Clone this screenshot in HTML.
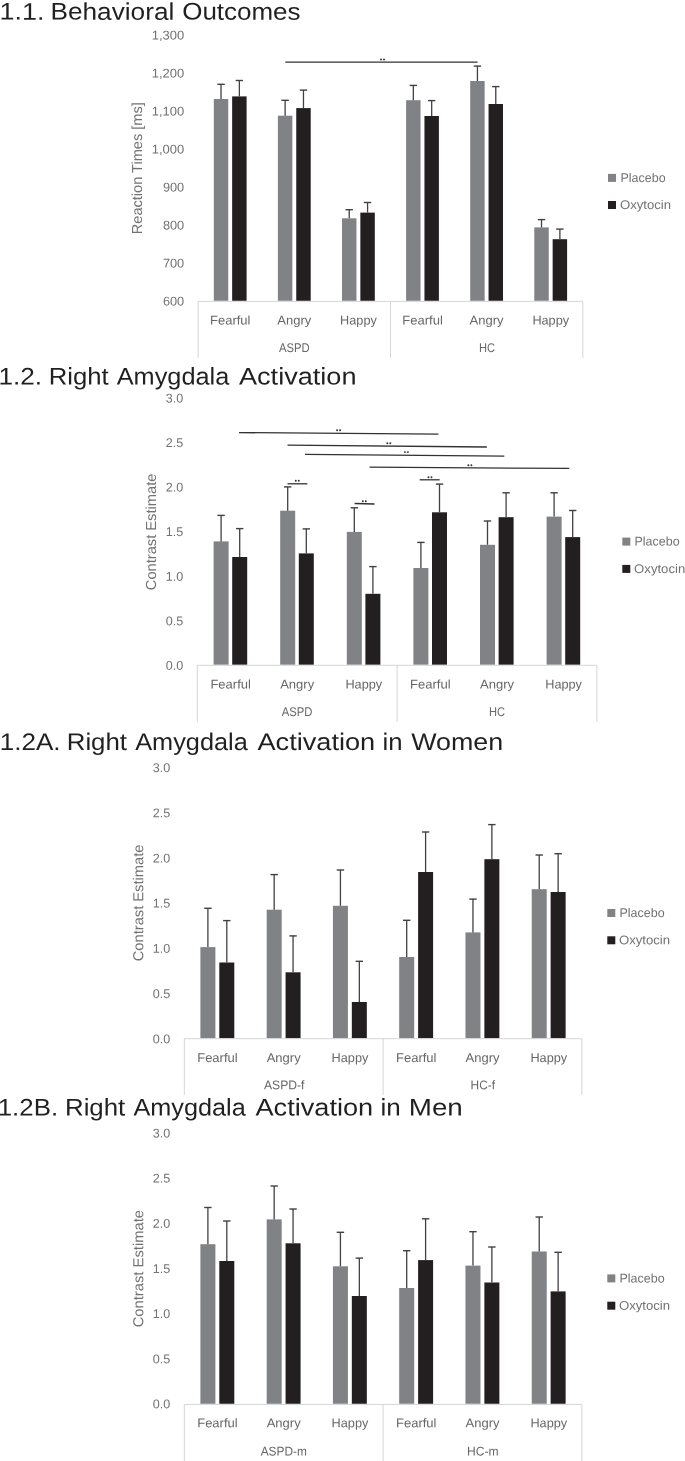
<!DOCTYPE html>
<html><head><meta charset="utf-8"><title>Figure</title>
<style>
html,body{margin:0;padding:0;background:#fff;}
body{width:685px;height:1461px;overflow:hidden;font-family:"Liberation Sans",sans-serif;}
svg{display:block;font-family:"Liberation Sans",sans-serif;}
</style></head><body>
<svg width="685" height="1461" viewBox="0 0 685 1461">
<rect width="685" height="1461" fill="#fff"/>
<line x1="198.20" y1="301.40" x2="582.80" y2="301.40" stroke="#d4d5d6" stroke-width="1"/>
<line x1="198.20" y1="301.40" x2="198.20" y2="358.00" stroke="#d4d5d6" stroke-width="1"/>
<line x1="390.50" y1="301.40" x2="390.50" y2="358.00" stroke="#d4d5d6" stroke-width="1"/>
<line x1="582.80" y1="301.40" x2="582.80" y2="358.00" stroke="#d4d5d6" stroke-width="1"/>
<rect x="213.80" y="99.00" width="14.45" height="201.75" fill="#808285"/>
<line x1="221.02" y1="84.20" x2="221.02" y2="99.00" stroke="#414042" stroke-width="1.3"/>
<line x1="217.32" y1="84.30" x2="224.72" y2="84.30" stroke="#414042" stroke-width="1.4"/>
<rect x="232.15" y="96.40" width="14.45" height="204.35" fill="#231f20"/>
<line x1="239.37" y1="80.40" x2="239.37" y2="96.40" stroke="#414042" stroke-width="1.3"/>
<line x1="235.67" y1="80.50" x2="243.07" y2="80.50" stroke="#414042" stroke-width="1.4"/>
<rect x="277.90" y="115.70" width="14.45" height="185.05" fill="#808285"/>
<line x1="285.12" y1="100.20" x2="285.12" y2="115.70" stroke="#414042" stroke-width="1.3"/>
<line x1="281.43" y1="100.30" x2="288.82" y2="100.30" stroke="#414042" stroke-width="1.4"/>
<rect x="296.25" y="108.10" width="14.45" height="192.65" fill="#231f20"/>
<line x1="303.47" y1="90.00" x2="303.47" y2="108.10" stroke="#414042" stroke-width="1.3"/>
<line x1="299.77" y1="90.10" x2="307.17" y2="90.10" stroke="#414042" stroke-width="1.4"/>
<rect x="342.00" y="218.30" width="14.45" height="82.45" fill="#808285"/>
<line x1="349.23" y1="209.60" x2="349.23" y2="218.30" stroke="#414042" stroke-width="1.3"/>
<line x1="345.53" y1="209.70" x2="352.93" y2="209.70" stroke="#414042" stroke-width="1.4"/>
<rect x="360.35" y="212.60" width="14.45" height="88.15" fill="#231f20"/>
<line x1="367.57" y1="202.40" x2="367.57" y2="212.60" stroke="#414042" stroke-width="1.3"/>
<line x1="363.88" y1="202.50" x2="371.27" y2="202.50" stroke="#414042" stroke-width="1.4"/>
<rect x="406.10" y="100.20" width="14.45" height="200.55" fill="#808285"/>
<line x1="413.33" y1="85.30" x2="413.33" y2="100.20" stroke="#414042" stroke-width="1.3"/>
<line x1="409.63" y1="85.40" x2="417.03" y2="85.40" stroke="#414042" stroke-width="1.4"/>
<rect x="424.45" y="116.00" width="14.45" height="184.75" fill="#231f20"/>
<line x1="431.68" y1="100.50" x2="431.68" y2="116.00" stroke="#414042" stroke-width="1.3"/>
<line x1="427.98" y1="100.60" x2="435.38" y2="100.60" stroke="#414042" stroke-width="1.4"/>
<rect x="470.20" y="81.00" width="14.45" height="219.75" fill="#808285"/>
<line x1="477.43" y1="66.00" x2="477.43" y2="81.00" stroke="#414042" stroke-width="1.3"/>
<line x1="473.73" y1="66.10" x2="481.12" y2="66.10" stroke="#414042" stroke-width="1.4"/>
<rect x="488.55" y="104.00" width="14.45" height="196.75" fill="#231f20"/>
<line x1="495.77" y1="86.50" x2="495.77" y2="104.00" stroke="#414042" stroke-width="1.3"/>
<line x1="492.07" y1="86.60" x2="499.47" y2="86.60" stroke="#414042" stroke-width="1.4"/>
<rect x="534.30" y="227.40" width="14.45" height="73.35" fill="#808285"/>
<line x1="541.53" y1="219.50" x2="541.53" y2="227.40" stroke="#414042" stroke-width="1.3"/>
<line x1="537.83" y1="219.60" x2="545.23" y2="219.60" stroke="#414042" stroke-width="1.4"/>
<rect x="552.65" y="239.20" width="14.45" height="61.55" fill="#231f20"/>
<line x1="559.88" y1="229.00" x2="559.88" y2="239.20" stroke="#414042" stroke-width="1.3"/>
<line x1="556.18" y1="229.10" x2="563.58" y2="229.10" stroke="#414042" stroke-width="1.4"/>
<rect x="608.00" y="173.90" width="8.00" height="8.00" fill="#808285"/>
<rect x="608.00" y="201.00" width="8.00" height="8.00" fill="#231f20"/>
<line x1="285.30" y1="62.20" x2="477.60" y2="62.20" stroke="#343132" stroke-width="1.3"/>
<circle cx="381.00" cy="59.50" r="0.95" fill="#302d2e"/>
<circle cx="384.00" cy="59.50" r="0.95" fill="#302d2e"/>
<line x1="197.30" y1="665.30" x2="596.90" y2="665.30" stroke="#d4d5d6" stroke-width="1"/>
<line x1="197.30" y1="665.30" x2="197.30" y2="722.00" stroke="#d4d5d6" stroke-width="1"/>
<line x1="397.10" y1="665.30" x2="397.10" y2="722.00" stroke="#d4d5d6" stroke-width="1"/>
<line x1="596.90" y1="665.30" x2="596.90" y2="722.00" stroke="#d4d5d6" stroke-width="1"/>
<rect x="213.60" y="541.40" width="15.00" height="123.25" fill="#808285"/>
<line x1="221.10" y1="515.30" x2="221.10" y2="541.40" stroke="#414042" stroke-width="1.3"/>
<line x1="217.40" y1="515.40" x2="224.80" y2="515.40" stroke="#414042" stroke-width="1.4"/>
<rect x="232.20" y="557.00" width="15.00" height="107.65" fill="#231f20"/>
<line x1="239.70" y1="528.50" x2="239.70" y2="557.00" stroke="#414042" stroke-width="1.3"/>
<line x1="236.00" y1="528.60" x2="243.40" y2="528.60" stroke="#414042" stroke-width="1.4"/>
<rect x="280.20" y="510.70" width="15.00" height="153.95" fill="#808285"/>
<line x1="287.70" y1="486.80" x2="287.70" y2="510.70" stroke="#414042" stroke-width="1.3"/>
<line x1="284.00" y1="486.90" x2="291.40" y2="486.90" stroke="#414042" stroke-width="1.4"/>
<rect x="298.80" y="553.40" width="15.00" height="111.25" fill="#231f20"/>
<line x1="306.30" y1="528.80" x2="306.30" y2="553.40" stroke="#414042" stroke-width="1.3"/>
<line x1="302.60" y1="528.90" x2="310.00" y2="528.90" stroke="#414042" stroke-width="1.4"/>
<rect x="346.80" y="531.90" width="15.00" height="132.75" fill="#808285"/>
<line x1="354.30" y1="507.70" x2="354.30" y2="531.90" stroke="#414042" stroke-width="1.3"/>
<line x1="350.60" y1="507.80" x2="358.00" y2="507.80" stroke="#414042" stroke-width="1.4"/>
<rect x="365.40" y="593.80" width="15.00" height="70.85" fill="#231f20"/>
<line x1="372.90" y1="566.50" x2="372.90" y2="593.80" stroke="#414042" stroke-width="1.3"/>
<line x1="369.20" y1="566.60" x2="376.60" y2="566.60" stroke="#414042" stroke-width="1.4"/>
<rect x="413.40" y="568.00" width="15.00" height="96.65" fill="#808285"/>
<line x1="420.90" y1="542.30" x2="420.90" y2="568.00" stroke="#414042" stroke-width="1.3"/>
<line x1="417.20" y1="542.40" x2="424.60" y2="542.40" stroke="#414042" stroke-width="1.4"/>
<rect x="432.00" y="512.30" width="15.00" height="152.35" fill="#231f20"/>
<line x1="439.50" y1="484.00" x2="439.50" y2="512.30" stroke="#414042" stroke-width="1.3"/>
<line x1="435.80" y1="484.10" x2="443.20" y2="484.10" stroke="#414042" stroke-width="1.4"/>
<rect x="480.00" y="544.80" width="15.00" height="119.85" fill="#808285"/>
<line x1="487.50" y1="520.90" x2="487.50" y2="544.80" stroke="#414042" stroke-width="1.3"/>
<line x1="483.80" y1="521.00" x2="491.20" y2="521.00" stroke="#414042" stroke-width="1.4"/>
<rect x="498.60" y="517.20" width="15.00" height="147.45" fill="#231f20"/>
<line x1="506.10" y1="492.70" x2="506.10" y2="517.20" stroke="#414042" stroke-width="1.3"/>
<line x1="502.40" y1="492.80" x2="509.80" y2="492.80" stroke="#414042" stroke-width="1.4"/>
<rect x="546.60" y="516.60" width="15.00" height="148.05" fill="#808285"/>
<line x1="554.10" y1="492.70" x2="554.10" y2="516.60" stroke="#414042" stroke-width="1.3"/>
<line x1="550.40" y1="492.80" x2="557.80" y2="492.80" stroke="#414042" stroke-width="1.4"/>
<rect x="565.20" y="537.10" width="15.00" height="127.55" fill="#231f20"/>
<line x1="572.70" y1="510.40" x2="572.70" y2="537.10" stroke="#414042" stroke-width="1.3"/>
<line x1="569.00" y1="510.50" x2="576.40" y2="510.50" stroke="#414042" stroke-width="1.4"/>
<rect x="622.30" y="537.60" width="8.00" height="8.00" fill="#808285"/>
<rect x="622.30" y="564.90" width="8.00" height="8.00" fill="#231f20"/>
<line x1="239.00" y1="432.60" x2="438.40" y2="434.10" stroke="#343132" stroke-width="1.3"/>
<line x1="287.50" y1="445.10" x2="486.90" y2="447.00" stroke="#343132" stroke-width="1.3"/>
<line x1="305.00" y1="454.30" x2="504.30" y2="456.20" stroke="#343132" stroke-width="1.3"/>
<line x1="369.60" y1="467.20" x2="569.30" y2="468.40" stroke="#343132" stroke-width="1.3"/>
<line x1="287.50" y1="483.80" x2="307.40" y2="483.80" stroke="#343132" stroke-width="1.3"/>
<line x1="354.60" y1="503.50" x2="374.50" y2="504.00" stroke="#343132" stroke-width="1.3"/>
<line x1="419.70" y1="479.80" x2="439.70" y2="479.80" stroke="#343132" stroke-width="1.3"/>
<circle cx="337.10" cy="430.20" r="0.95" fill="#302d2e"/>
<circle cx="340.10" cy="430.20" r="0.95" fill="#302d2e"/>
<circle cx="387.30" cy="443.20" r="0.95" fill="#302d2e"/>
<circle cx="390.30" cy="443.20" r="0.95" fill="#302d2e"/>
<circle cx="404.90" cy="452.10" r="0.95" fill="#302d2e"/>
<circle cx="407.90" cy="452.10" r="0.95" fill="#302d2e"/>
<circle cx="468.40" cy="465.20" r="0.95" fill="#302d2e"/>
<circle cx="471.40" cy="465.20" r="0.95" fill="#302d2e"/>
<circle cx="295.80" cy="480.70" r="0.95" fill="#302d2e"/>
<circle cx="298.80" cy="480.70" r="0.95" fill="#302d2e"/>
<circle cx="362.80" cy="501.20" r="0.95" fill="#302d2e"/>
<circle cx="365.80" cy="501.20" r="0.95" fill="#302d2e"/>
<circle cx="428.50" cy="477.20" r="0.95" fill="#302d2e"/>
<circle cx="431.50" cy="477.20" r="0.95" fill="#302d2e"/>
<line x1="184.30" y1="1038.70" x2="581.90" y2="1038.70" stroke="#d4d5d6" stroke-width="1"/>
<line x1="184.30" y1="1038.70" x2="184.30" y2="1095.00" stroke="#d4d5d6" stroke-width="1"/>
<line x1="383.10" y1="1038.70" x2="383.10" y2="1095.00" stroke="#d4d5d6" stroke-width="1"/>
<line x1="581.90" y1="1038.70" x2="581.90" y2="1095.00" stroke="#d4d5d6" stroke-width="1"/>
<rect x="200.40" y="947.10" width="15.00" height="90.95" fill="#808285"/>
<line x1="207.90" y1="908.20" x2="207.90" y2="947.10" stroke="#414042" stroke-width="1.3"/>
<line x1="204.20" y1="908.30" x2="211.60" y2="908.30" stroke="#414042" stroke-width="1.4"/>
<rect x="219.30" y="962.50" width="15.00" height="75.55" fill="#231f20"/>
<line x1="226.80" y1="920.50" x2="226.80" y2="962.50" stroke="#414042" stroke-width="1.3"/>
<line x1="223.10" y1="920.60" x2="230.50" y2="920.60" stroke="#414042" stroke-width="1.4"/>
<rect x="266.67" y="909.70" width="15.00" height="128.35" fill="#808285"/>
<line x1="274.17" y1="874.50" x2="274.17" y2="909.70" stroke="#414042" stroke-width="1.3"/>
<line x1="270.47" y1="874.60" x2="277.87" y2="874.60" stroke="#414042" stroke-width="1.4"/>
<rect x="285.57" y="972.30" width="15.00" height="65.75" fill="#231f20"/>
<line x1="293.07" y1="935.80" x2="293.07" y2="972.30" stroke="#414042" stroke-width="1.3"/>
<line x1="289.37" y1="935.90" x2="296.77" y2="935.90" stroke="#414042" stroke-width="1.4"/>
<rect x="332.93" y="905.80" width="15.00" height="132.25" fill="#808285"/>
<line x1="340.43" y1="869.90" x2="340.43" y2="905.80" stroke="#414042" stroke-width="1.3"/>
<line x1="336.73" y1="870.00" x2="344.13" y2="870.00" stroke="#414042" stroke-width="1.4"/>
<rect x="351.83" y="1002.00" width="15.00" height="36.05" fill="#231f20"/>
<line x1="359.33" y1="961.20" x2="359.33" y2="1002.00" stroke="#414042" stroke-width="1.3"/>
<line x1="355.63" y1="961.30" x2="363.03" y2="961.30" stroke="#414042" stroke-width="1.4"/>
<rect x="399.20" y="957.00" width="15.00" height="81.05" fill="#808285"/>
<line x1="406.70" y1="920.20" x2="406.70" y2="957.00" stroke="#414042" stroke-width="1.3"/>
<line x1="403.00" y1="920.30" x2="410.40" y2="920.30" stroke="#414042" stroke-width="1.4"/>
<rect x="418.10" y="872.00" width="15.00" height="166.05" fill="#231f20"/>
<line x1="425.60" y1="831.90" x2="425.60" y2="872.00" stroke="#414042" stroke-width="1.3"/>
<line x1="421.90" y1="832.00" x2="429.30" y2="832.00" stroke="#414042" stroke-width="1.4"/>
<rect x="465.47" y="932.40" width="15.00" height="105.65" fill="#808285"/>
<line x1="472.97" y1="899.00" x2="472.97" y2="932.40" stroke="#414042" stroke-width="1.3"/>
<line x1="469.27" y1="899.10" x2="476.67" y2="899.10" stroke="#414042" stroke-width="1.4"/>
<rect x="484.37" y="859.20" width="15.00" height="178.85" fill="#231f20"/>
<line x1="491.87" y1="824.50" x2="491.87" y2="859.20" stroke="#414042" stroke-width="1.3"/>
<line x1="488.17" y1="824.60" x2="495.57" y2="824.60" stroke="#414042" stroke-width="1.4"/>
<rect x="531.73" y="889.20" width="15.00" height="148.85" fill="#808285"/>
<line x1="539.23" y1="854.90" x2="539.23" y2="889.20" stroke="#414042" stroke-width="1.3"/>
<line x1="535.53" y1="855.00" x2="542.93" y2="855.00" stroke="#414042" stroke-width="1.4"/>
<rect x="550.63" y="892.00" width="15.00" height="146.05" fill="#231f20"/>
<line x1="558.13" y1="853.60" x2="558.13" y2="892.00" stroke="#414042" stroke-width="1.3"/>
<line x1="554.43" y1="853.70" x2="561.83" y2="853.70" stroke="#414042" stroke-width="1.4"/>
<rect x="607.30" y="909.00" width="8.00" height="8.00" fill="#808285"/>
<rect x="607.30" y="936.30" width="8.00" height="8.00" fill="#231f20"/>
<line x1="184.30" y1="1404.40" x2="581.90" y2="1404.40" stroke="#d4d5d6" stroke-width="1"/>
<line x1="184.30" y1="1404.40" x2="184.30" y2="1461.00" stroke="#d4d5d6" stroke-width="1"/>
<line x1="383.10" y1="1404.40" x2="383.10" y2="1461.00" stroke="#d4d5d6" stroke-width="1"/>
<line x1="581.90" y1="1404.40" x2="581.90" y2="1461.00" stroke="#d4d5d6" stroke-width="1"/>
<rect x="200.40" y="1244.20" width="15.00" height="159.55" fill="#808285"/>
<line x1="207.90" y1="1207.40" x2="207.90" y2="1244.20" stroke="#414042" stroke-width="1.3"/>
<line x1="204.20" y1="1207.50" x2="211.60" y2="1207.50" stroke="#414042" stroke-width="1.4"/>
<rect x="219.30" y="1261.00" width="15.00" height="142.75" fill="#231f20"/>
<line x1="226.80" y1="1220.90" x2="226.80" y2="1261.00" stroke="#414042" stroke-width="1.3"/>
<line x1="223.10" y1="1221.00" x2="230.50" y2="1221.00" stroke="#414042" stroke-width="1.4"/>
<rect x="266.67" y="1219.40" width="15.00" height="184.35" fill="#808285"/>
<line x1="274.17" y1="1185.90" x2="274.17" y2="1219.40" stroke="#414042" stroke-width="1.3"/>
<line x1="270.47" y1="1186.00" x2="277.87" y2="1186.00" stroke="#414042" stroke-width="1.4"/>
<rect x="285.57" y="1243.30" width="15.00" height="160.45" fill="#231f20"/>
<line x1="293.07" y1="1208.90" x2="293.07" y2="1243.30" stroke="#414042" stroke-width="1.3"/>
<line x1="289.37" y1="1209.00" x2="296.77" y2="1209.00" stroke="#414042" stroke-width="1.4"/>
<rect x="332.93" y="1266.30" width="15.00" height="137.45" fill="#808285"/>
<line x1="340.43" y1="1232.20" x2="340.43" y2="1266.30" stroke="#414042" stroke-width="1.3"/>
<line x1="336.73" y1="1232.30" x2="344.13" y2="1232.30" stroke="#414042" stroke-width="1.4"/>
<rect x="351.83" y="1296.00" width="15.00" height="107.75" fill="#231f20"/>
<line x1="359.33" y1="1258.00" x2="359.33" y2="1296.00" stroke="#414042" stroke-width="1.3"/>
<line x1="355.63" y1="1258.10" x2="363.03" y2="1258.10" stroke="#414042" stroke-width="1.4"/>
<rect x="399.20" y="1288.00" width="15.00" height="115.75" fill="#808285"/>
<line x1="406.70" y1="1250.60" x2="406.70" y2="1288.00" stroke="#414042" stroke-width="1.3"/>
<line x1="403.00" y1="1250.70" x2="410.40" y2="1250.70" stroke="#414042" stroke-width="1.4"/>
<rect x="418.10" y="1260.10" width="15.00" height="143.65" fill="#231f20"/>
<line x1="425.60" y1="1218.70" x2="425.60" y2="1260.10" stroke="#414042" stroke-width="1.3"/>
<line x1="421.90" y1="1218.80" x2="429.30" y2="1218.80" stroke="#414042" stroke-width="1.4"/>
<rect x="465.47" y="1265.60" width="15.00" height="138.15" fill="#808285"/>
<line x1="472.97" y1="1231.60" x2="472.97" y2="1265.60" stroke="#414042" stroke-width="1.3"/>
<line x1="469.27" y1="1231.70" x2="476.67" y2="1231.70" stroke="#414042" stroke-width="1.4"/>
<rect x="484.37" y="1282.50" width="15.00" height="121.25" fill="#231f20"/>
<line x1="491.87" y1="1246.90" x2="491.87" y2="1282.50" stroke="#414042" stroke-width="1.3"/>
<line x1="488.17" y1="1247.00" x2="495.57" y2="1247.00" stroke="#414042" stroke-width="1.4"/>
<rect x="531.73" y="1251.50" width="15.00" height="152.25" fill="#808285"/>
<line x1="539.23" y1="1216.90" x2="539.23" y2="1251.50" stroke="#414042" stroke-width="1.3"/>
<line x1="535.53" y1="1217.00" x2="542.93" y2="1217.00" stroke="#414042" stroke-width="1.4"/>
<rect x="550.63" y="1291.40" width="15.00" height="112.35" fill="#231f20"/>
<line x1="558.13" y1="1252.20" x2="558.13" y2="1291.40" stroke="#414042" stroke-width="1.3"/>
<line x1="554.43" y1="1252.30" x2="561.83" y2="1252.30" stroke="#414042" stroke-width="1.4"/>
<rect x="607.30" y="1274.40" width="8.00" height="8.00" fill="#808285"/>
<rect x="607.30" y="1301.70" width="8.00" height="8.00" fill="#231f20"/>
<g style="filter:grayscale(1)">
<text x="-0.5" y="19.6" font-size="24" fill="#231f20" textLength="44.88" lengthAdjust="spacingAndGlyphs" transform="rotate(0.04 -0.5 19.6)">1.1.</text>
<text x="50.5" y="19.6" font-size="24" fill="#231f20" textLength="123.77" lengthAdjust="spacingAndGlyphs" transform="rotate(0.04 50.5 19.6)">Behavioral</text>
<text x="182.25" y="19.6" font-size="24" fill="#231f20" textLength="118.23" lengthAdjust="spacingAndGlyphs" transform="rotate(0.04 182.25 19.6)">Outcomes</text>
<text x="184.2" y="39.5" font-size="12.6" fill="#717275" text-anchor="end" textLength="32.4" lengthAdjust="spacingAndGlyphs" transform="rotate(0.04 184.2 39.5)">1,300</text>
<text x="184.2" y="77.5" font-size="12.6" fill="#717275" text-anchor="end" textLength="32.4" lengthAdjust="spacingAndGlyphs" transform="rotate(0.04 184.2 77.5)">1,200</text>
<text x="184.2" y="115.5" font-size="12.6" fill="#717275" text-anchor="end" textLength="32.4" lengthAdjust="spacingAndGlyphs" transform="rotate(0.04 184.2 115.5)">1,100</text>
<text x="184.2" y="153.5" font-size="12.6" fill="#717275" text-anchor="end" textLength="32.4" lengthAdjust="spacingAndGlyphs" transform="rotate(0.04 184.2 153.5)">1,000</text>
<text x="184.2" y="191.5" font-size="12.6" fill="#717275" text-anchor="end" textLength="21.3" lengthAdjust="spacingAndGlyphs" transform="rotate(0.04 184.2 191.5)">900</text>
<text x="184.2" y="229.5" font-size="12.6" fill="#717275" text-anchor="end" textLength="21.3" lengthAdjust="spacingAndGlyphs" transform="rotate(0.04 184.2 229.5)">800</text>
<text x="184.2" y="267.5" font-size="12.6" fill="#717275" text-anchor="end" textLength="21.3" lengthAdjust="spacingAndGlyphs" transform="rotate(0.04 184.2 267.5)">700</text>
<text x="184.2" y="305.5" font-size="12.6" fill="#717275" text-anchor="end" textLength="21.3" lengthAdjust="spacingAndGlyphs" transform="rotate(0.04 184.2 305.5)">600</text>
<text x="142" y="234.2" font-size="14.5" fill="#717275" textLength="132" lengthAdjust="spacingAndGlyphs" transform="rotate(-89.96 142 234.2)">Reaction Times [ms]</text>
<text x="210.0" y="324.6" font-size="12.6" fill="#66676a" textLength="40.5" lengthAdjust="spacingAndGlyphs" transform="rotate(0.04 210.0 324.6)">Fearful</text>
<text x="277.3" y="324.6" font-size="12.6" fill="#66676a" textLength="34.0" lengthAdjust="spacingAndGlyphs" transform="rotate(0.04 277.3 324.6)">Angry</text>
<text x="340.1" y="324.6" font-size="12.6" fill="#66676a" textLength="36.7" lengthAdjust="spacingAndGlyphs" transform="rotate(0.04 340.1 324.6)">Happy</text>
<text x="402.3" y="324.6" font-size="12.6" fill="#66676a" textLength="40.5" lengthAdjust="spacingAndGlyphs" transform="rotate(0.04 402.3 324.6)">Fearful</text>
<text x="469.6" y="324.6" font-size="12.6" fill="#66676a" textLength="34.0" lengthAdjust="spacingAndGlyphs" transform="rotate(0.04 469.6 324.6)">Angry</text>
<text x="532.4" y="324.6" font-size="12.6" fill="#66676a" textLength="36.7" lengthAdjust="spacingAndGlyphs" transform="rotate(0.04 532.4 324.6)">Happy</text>
<text x="278.9" y="352" font-size="12.6" fill="#66676a" textLength="30.7" lengthAdjust="spacingAndGlyphs" transform="rotate(0.04 278.9 352)">ASPD</text>
<text x="478.9" y="352" font-size="12.6" fill="#66676a" textLength="16.1" lengthAdjust="spacingAndGlyphs" transform="rotate(0.04 478.9 352)">HC</text>
<text x="620.5" y="181.9" font-size="12.6" fill="#717275" textLength="45.1" lengthAdjust="spacingAndGlyphs" transform="rotate(0.04 620.5 181.9)">Placebo</text>
<text x="620" y="209" font-size="12.6" fill="#717275" textLength="51.1" lengthAdjust="spacingAndGlyphs" transform="rotate(0.04 620 209)">Oxytocin</text>
<text x="-1.5" y="384.5" font-size="24" fill="#231f20" textLength="43.61" lengthAdjust="spacingAndGlyphs" transform="rotate(0.04 -1.5 384.5)">1.2.</text>
<text x="48.75" y="384.5" font-size="24" fill="#231f20" textLength="59.97" lengthAdjust="spacingAndGlyphs" transform="rotate(0.04 48.75 384.5)">Right</text>
<text x="116.75" y="384.5" font-size="24" fill="#231f20" textLength="112.5" lengthAdjust="spacingAndGlyphs" transform="rotate(0.04 116.75 384.5)">Amygdala</text>
<text x="239.0" y="384.5" font-size="24" fill="#231f20" textLength="117.48" lengthAdjust="spacingAndGlyphs" transform="rotate(0.04 239.0 384.5)">Activation</text>
<text x="183.3" y="402.5" font-size="12.6" fill="#717275" text-anchor="end" textLength="17.5" lengthAdjust="spacingAndGlyphs" transform="rotate(0.04 183.3 402.5)">3.0</text>
<text x="183.3" y="447.0" font-size="12.6" fill="#717275" text-anchor="end" textLength="17.5" lengthAdjust="spacingAndGlyphs" transform="rotate(0.04 183.3 447.0)">2.5</text>
<text x="183.3" y="491.6" font-size="12.6" fill="#717275" text-anchor="end" textLength="17.5" lengthAdjust="spacingAndGlyphs" transform="rotate(0.04 183.3 491.6)">2.0</text>
<text x="183.3" y="536.1" font-size="12.6" fill="#717275" text-anchor="end" textLength="17.5" lengthAdjust="spacingAndGlyphs" transform="rotate(0.04 183.3 536.1)">1.5</text>
<text x="183.3" y="580.7" font-size="12.6" fill="#717275" text-anchor="end" textLength="17.5" lengthAdjust="spacingAndGlyphs" transform="rotate(0.04 183.3 580.7)">1.0</text>
<text x="183.3" y="625.2" font-size="12.6" fill="#717275" text-anchor="end" textLength="17.5" lengthAdjust="spacingAndGlyphs" transform="rotate(0.04 183.3 625.2)">0.5</text>
<text x="183.3" y="669.8" font-size="12.6" fill="#717275" text-anchor="end" textLength="17.5" lengthAdjust="spacingAndGlyphs" transform="rotate(0.04 183.3 669.8)">0.0</text>
<text x="156" y="590.2" font-size="14.5" fill="#717275" textLength="116.6" lengthAdjust="spacingAndGlyphs" transform="rotate(-89.96 156 590.2)">Contrast Estimate</text>
<text x="210.4" y="688.5" font-size="12.6" fill="#66676a" textLength="40.5" lengthAdjust="spacingAndGlyphs" transform="rotate(0.04 210.4 688.5)">Fearful</text>
<text x="280.2" y="688.5" font-size="12.6" fill="#66676a" textLength="34.0" lengthAdjust="spacingAndGlyphs" transform="rotate(0.04 280.2 688.5)">Angry</text>
<text x="345.4" y="688.5" font-size="12.6" fill="#66676a" textLength="36.8" lengthAdjust="spacingAndGlyphs" transform="rotate(0.04 345.4 688.5)">Happy</text>
<text x="410.1" y="688.5" font-size="12.6" fill="#66676a" textLength="40.5" lengthAdjust="spacingAndGlyphs" transform="rotate(0.04 410.1 688.5)">Fearful</text>
<text x="480.0" y="688.5" font-size="12.6" fill="#66676a" textLength="34.0" lengthAdjust="spacingAndGlyphs" transform="rotate(0.04 480.0 688.5)">Angry</text>
<text x="545.2" y="688.5" font-size="12.6" fill="#66676a" textLength="36.8" lengthAdjust="spacingAndGlyphs" transform="rotate(0.04 545.2 688.5)">Happy</text>
<text x="281.7" y="716" font-size="12.6" fill="#66676a" textLength="30.7" lengthAdjust="spacingAndGlyphs" transform="rotate(0.04 281.7 716)">ASPD</text>
<text x="489" y="716" font-size="12.6" fill="#66676a" textLength="16.1" lengthAdjust="spacingAndGlyphs" transform="rotate(0.04 489 716)">HC</text>
<text x="634.5" y="545.6" font-size="12.6" fill="#717275" textLength="45.1" lengthAdjust="spacingAndGlyphs" transform="rotate(0.04 634.5 545.6)">Placebo</text>
<text x="634.1" y="572.9" font-size="12.6" fill="#717275" textLength="51.1" lengthAdjust="spacingAndGlyphs" transform="rotate(0.04 634.1 572.9)">Oxytocin</text>
<text x="-0.25" y="749.9" font-size="24" fill="#231f20" textLength="60.83" lengthAdjust="spacingAndGlyphs" transform="rotate(0.04 -0.25 749.9)">1.2A.</text>
<text x="66.75" y="749.9" font-size="24" fill="#231f20" textLength="60.22" lengthAdjust="spacingAndGlyphs" transform="rotate(0.04 66.75 749.9)">Right</text>
<text x="135.25" y="749.9" font-size="24" fill="#231f20" textLength="112.49" lengthAdjust="spacingAndGlyphs" transform="rotate(0.04 135.25 749.9)">Amygdala</text>
<text x="257.5" y="749.9" font-size="24" fill="#231f20" textLength="117.73" lengthAdjust="spacingAndGlyphs" transform="rotate(0.04 257.5 749.9)">Activation</text>
<text x="382.5" y="749.9" font-size="24" fill="#231f20" textLength="20.02" lengthAdjust="spacingAndGlyphs" transform="rotate(0.04 382.5 749.9)">in</text>
<text x="411.25" y="749.9" font-size="24" fill="#231f20" textLength="91.98" lengthAdjust="spacingAndGlyphs" transform="rotate(0.04 411.25 749.9)">Women</text>
<text x="170.2" y="772.0" font-size="12.6" fill="#717275" text-anchor="end" textLength="17.5" lengthAdjust="spacingAndGlyphs" transform="rotate(0.04 170.2 772.0)">3.0</text>
<text x="170.2" y="817.2" font-size="12.6" fill="#717275" text-anchor="end" textLength="17.5" lengthAdjust="spacingAndGlyphs" transform="rotate(0.04 170.2 817.2)">2.5</text>
<text x="170.2" y="862.4" font-size="12.6" fill="#717275" text-anchor="end" textLength="17.5" lengthAdjust="spacingAndGlyphs" transform="rotate(0.04 170.2 862.4)">2.0</text>
<text x="170.2" y="907.6" font-size="12.6" fill="#717275" text-anchor="end" textLength="17.5" lengthAdjust="spacingAndGlyphs" transform="rotate(0.04 170.2 907.6)">1.5</text>
<text x="170.2" y="952.8" font-size="12.6" fill="#717275" text-anchor="end" textLength="17.5" lengthAdjust="spacingAndGlyphs" transform="rotate(0.04 170.2 952.8)">1.0</text>
<text x="170.2" y="998.0" font-size="12.6" fill="#717275" text-anchor="end" textLength="17.5" lengthAdjust="spacingAndGlyphs" transform="rotate(0.04 170.2 998.0)">0.5</text>
<text x="170.2" y="1043.2" font-size="12.6" fill="#717275" text-anchor="end" textLength="17.5" lengthAdjust="spacingAndGlyphs" transform="rotate(0.04 170.2 1043.2)">0.0</text>
<text x="143.3" y="961.3" font-size="14.5" fill="#717275" textLength="116.8" lengthAdjust="spacingAndGlyphs" transform="rotate(-89.96 143.3 961.3)">Contrast Estimate</text>
<text x="197.2" y="1062" font-size="12.6" fill="#66676a" textLength="40.5" lengthAdjust="spacingAndGlyphs" transform="rotate(0.04 197.2 1062)">Fearful</text>
<text x="266.7" y="1062" font-size="12.6" fill="#66676a" textLength="34.0" lengthAdjust="spacingAndGlyphs" transform="rotate(0.04 266.7 1062)">Angry</text>
<text x="331.6" y="1062" font-size="12.6" fill="#66676a" textLength="36.8" lengthAdjust="spacingAndGlyphs" transform="rotate(0.04 331.6 1062)">Happy</text>
<text x="396.0" y="1062" font-size="12.6" fill="#66676a" textLength="40.5" lengthAdjust="spacingAndGlyphs" transform="rotate(0.04 396.0 1062)">Fearful</text>
<text x="465.5" y="1062" font-size="12.6" fill="#66676a" textLength="34.0" lengthAdjust="spacingAndGlyphs" transform="rotate(0.04 465.5 1062)">Angry</text>
<text x="530.4" y="1062" font-size="12.6" fill="#66676a" textLength="36.8" lengthAdjust="spacingAndGlyphs" transform="rotate(0.04 530.4 1062)">Happy</text>
<text x="263.9" y="1089.3" font-size="12.6" fill="#66676a" textLength="40.6" lengthAdjust="spacingAndGlyphs" transform="rotate(0.04 263.9 1089.3)">ASPD-f</text>
<text x="470.6" y="1089.3" font-size="12.6" fill="#66676a" textLength="24.5" lengthAdjust="spacingAndGlyphs" transform="rotate(0.04 470.6 1089.3)">HC-f</text>
<text x="619.5" y="917" font-size="12.6" fill="#717275" textLength="45.1" lengthAdjust="spacingAndGlyphs" transform="rotate(0.04 619.5 917)">Placebo</text>
<text x="619" y="944.3" font-size="12.6" fill="#717275" textLength="51.1" lengthAdjust="spacingAndGlyphs" transform="rotate(0.04 619 944.3)">Oxytocin</text>
<text x="-2.25" y="1115.4" font-size="24" fill="#231f20" textLength="60.34" lengthAdjust="spacingAndGlyphs" transform="rotate(0.04 -2.25 1115.4)">1.2B.</text>
<text x="65.0" y="1115.4" font-size="24" fill="#231f20" textLength="60.22" lengthAdjust="spacingAndGlyphs" transform="rotate(0.04 65.0 1115.4)">Right</text>
<text x="133.5" y="1115.4" font-size="24" fill="#231f20" textLength="112.25" lengthAdjust="spacingAndGlyphs" transform="rotate(0.04 133.5 1115.4)">Amygdala</text>
<text x="255.5" y="1115.4" font-size="24" fill="#231f20" textLength="117.73" lengthAdjust="spacingAndGlyphs" transform="rotate(0.04 255.5 1115.4)">Activation</text>
<text x="380.5" y="1115.4" font-size="24" fill="#231f20" textLength="20.28" lengthAdjust="spacingAndGlyphs" transform="rotate(0.04 380.5 1115.4)">in</text>
<text x="408.75" y="1115.4" font-size="24" fill="#231f20" textLength="54.05" lengthAdjust="spacingAndGlyphs" transform="rotate(0.04 408.75 1115.4)">Men</text>
<text x="170.2" y="1137.4" font-size="12.6" fill="#717275" text-anchor="end" textLength="17.5" lengthAdjust="spacingAndGlyphs" transform="rotate(0.04 170.2 1137.4)">3.0</text>
<text x="170.2" y="1182.5" font-size="12.6" fill="#717275" text-anchor="end" textLength="17.5" lengthAdjust="spacingAndGlyphs" transform="rotate(0.04 170.2 1182.5)">2.5</text>
<text x="170.2" y="1227.7" font-size="12.6" fill="#717275" text-anchor="end" textLength="17.5" lengthAdjust="spacingAndGlyphs" transform="rotate(0.04 170.2 1227.7)">2.0</text>
<text x="170.2" y="1272.9" font-size="12.6" fill="#717275" text-anchor="end" textLength="17.5" lengthAdjust="spacingAndGlyphs" transform="rotate(0.04 170.2 1272.9)">1.5</text>
<text x="170.2" y="1318.0" font-size="12.6" fill="#717275" text-anchor="end" textLength="17.5" lengthAdjust="spacingAndGlyphs" transform="rotate(0.04 170.2 1318.0)">1.0</text>
<text x="170.2" y="1363.2" font-size="12.6" fill="#717275" text-anchor="end" textLength="17.5" lengthAdjust="spacingAndGlyphs" transform="rotate(0.04 170.2 1363.2)">0.5</text>
<text x="170.2" y="1408.3" font-size="12.6" fill="#717275" text-anchor="end" textLength="17.5" lengthAdjust="spacingAndGlyphs" transform="rotate(0.04 170.2 1408.3)">0.0</text>
<text x="143.3" y="1327.3" font-size="14.5" fill="#717275" textLength="117.3" lengthAdjust="spacingAndGlyphs" transform="rotate(-89.96 143.3 1327.3)">Contrast Estimate</text>
<text x="197.2" y="1427.3" font-size="12.6" fill="#66676a" textLength="40.5" lengthAdjust="spacingAndGlyphs" transform="rotate(0.04 197.2 1427.3)">Fearful</text>
<text x="266.7" y="1427.3" font-size="12.6" fill="#66676a" textLength="34.0" lengthAdjust="spacingAndGlyphs" transform="rotate(0.04 266.7 1427.3)">Angry</text>
<text x="331.6" y="1427.3" font-size="12.6" fill="#66676a" textLength="36.8" lengthAdjust="spacingAndGlyphs" transform="rotate(0.04 331.6 1427.3)">Happy</text>
<text x="396.0" y="1427.3" font-size="12.6" fill="#66676a" textLength="40.5" lengthAdjust="spacingAndGlyphs" transform="rotate(0.04 396.0 1427.3)">Fearful</text>
<text x="465.5" y="1427.3" font-size="12.6" fill="#66676a" textLength="34.0" lengthAdjust="spacingAndGlyphs" transform="rotate(0.04 465.5 1427.3)">Angry</text>
<text x="530.4" y="1427.3" font-size="12.6" fill="#66676a" textLength="36.8" lengthAdjust="spacingAndGlyphs" transform="rotate(0.04 530.4 1427.3)">Happy</text>
<text x="260.7" y="1455.6" font-size="12.6" fill="#66676a" textLength="46.2" lengthAdjust="spacingAndGlyphs" transform="rotate(0.04 260.7 1455.6)">ASPD-m</text>
<text x="467" y="1455.6" font-size="12.6" fill="#66676a" textLength="31.6" lengthAdjust="spacingAndGlyphs" transform="rotate(0.04 467 1455.6)">HC-m</text>
<text x="619.5" y="1282.4" font-size="12.6" fill="#717275" textLength="45.1" lengthAdjust="spacingAndGlyphs" transform="rotate(0.04 619.5 1282.4)">Placebo</text>
<text x="619" y="1309.7" font-size="12.6" fill="#717275" textLength="51.1" lengthAdjust="spacingAndGlyphs" transform="rotate(0.04 619 1309.7)">Oxytocin</text>
</g>
</svg>
</body></html>
